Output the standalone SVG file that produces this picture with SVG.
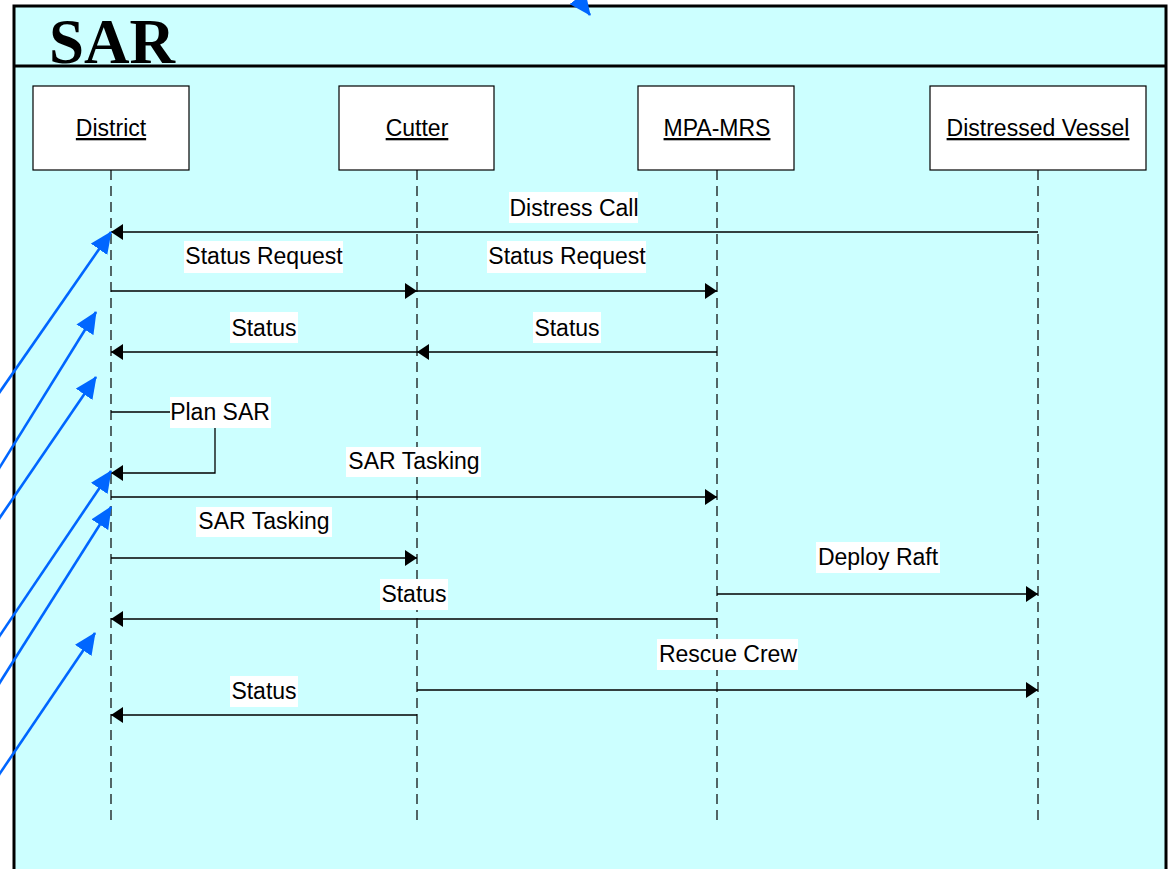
<svg xmlns="http://www.w3.org/2000/svg" width="1169" height="869" viewBox="0 0 1169 869">
  <style>
    .frame { fill: #CCFFFF; stroke: #000; stroke-width: 3; }
    .box { fill: #fff; stroke: #000; stroke-width: 1.2; }
    .name { font-family: "Liberation Sans", Arial, sans-serif; font-size: 23px; text-anchor: middle; text-decoration: underline; fill: #000; }
    .life { stroke: #000; stroke-width: 1.2; stroke-dasharray: 10 6; fill: none; }
    .msg { stroke: #000; stroke-width: 1.3; fill: none; }
    .lbl { font-family: "Liberation Sans", Arial, sans-serif; font-size: 23px; text-anchor: middle; fill: #000; }
    .lblbg { fill: #fff; }
    .note { stroke: #0066FF; stroke-width: 2.6; fill: none; }
  </style>
  <defs>
    <marker id="head" viewBox="0 0 12 16" refX="12" refY="8" markerWidth="12" markerHeight="16" markerUnits="userSpaceOnUse" orient="auto">
      <path d="M0,0 L12,8 L0,16 Z" fill="#000"/>
    </marker>
    <marker id="bluehead" viewBox="0 0 22 20" refX="21" refY="10" markerWidth="22" markerHeight="20" markerUnits="userSpaceOnUse" orient="auto">
      <path d="M0,0 L22,10 L0,20 Z" fill="#0066FF"/>
    </marker>
  </defs>

  <!-- swimlane frame and title -->
  <rect class="frame" x="14" y="6" width="1152" height="890"/>
  <line x1="14" y1="66" x2="1166" y2="66" stroke="#000" stroke-width="3"/>
  <text x="49" y="63" font-family="'Liberation Serif', 'Times New Roman', serif" font-size="63" font-weight="bold" fill="#000">SAR</text>

  <!-- participants -->
  <g id="district">
    <rect class="box" x="33" y="86" width="156" height="84"/>
    <text class="name" x="111" y="136">District</text>
    <line class="life" x1="111" y1="170" x2="111" y2="825"/>
  </g>
  <g id="cutter">
    <rect class="box" x="339" y="86" width="155" height="84"/>
    <text class="name" x="417" y="136">Cutter</text>
    <line class="life" x1="417" y1="170" x2="417" y2="825"/>
  </g>
  <g id="mpa-mrs">
    <rect class="box" x="638" y="86" width="156" height="84"/>
    <text class="name" x="717" y="136">MPA-MRS</text>
    <line class="life" x1="717" y1="170" x2="717" y2="825"/>
  </g>
  <g id="distressed-vessel">
    <rect class="box" x="930" y="86" width="216" height="84"/>
    <text class="name" x="1038" y="136">Distressed Vessel</text>
    <line class="life" x1="1038" y1="170" x2="1038" y2="825"/>
  </g>

  <!-- messages -->
  <g id="connectors">
    <line class="msg" x1="1038" y1="232" x2="111" y2="232" marker-end="url(#head)"/>
    <line class="msg" x1="111" y1="291" x2="417" y2="291" marker-end="url(#head)"/>
    <line class="msg" x1="417" y1="291" x2="717" y2="291" marker-end="url(#head)"/>
    <line class="msg" x1="717" y1="352" x2="417" y2="352" marker-end="url(#head)"/>
    <line class="msg" x1="417" y1="352" x2="111" y2="352" marker-end="url(#head)"/>
    <polyline class="msg" points="111,412 172,412"/>
    <polyline class="msg" points="215,428 215,473 111,473" marker-end="url(#head)"/>
    <line class="msg" x1="111" y1="497" x2="717" y2="497" marker-end="url(#head)"/>
    <line class="msg" x1="111" y1="558" x2="417" y2="558" marker-end="url(#head)"/>
    <line class="msg" x1="717" y1="594" x2="1038" y2="594" marker-end="url(#head)"/>
    <line class="msg" x1="717" y1="619" x2="111" y2="619" marker-end="url(#head)"/>
    <line class="msg" x1="417" y1="690" x2="1038" y2="690" marker-end="url(#head)"/>
    <line class="msg" x1="417" y1="715" x2="111" y2="715" marker-end="url(#head)"/>

    <!-- message labels -->
    <rect class="lblbg" x="509" y="192" width="129" height="31"/>
    <text class="lbl" x="574" y="216">Distress Call</text>
    <rect class="lblbg" x="184" y="241" width="159" height="32"/>
    <text class="lbl" x="264" y="264">Status Request</text>
    <rect class="lblbg" x="487" y="241" width="159" height="32"/>
    <text class="lbl" x="567" y="264">Status Request</text>
    <rect class="lblbg" x="230" y="312" width="68" height="31"/>
    <text class="lbl" x="264" y="336">Status</text>
    <rect class="lblbg" x="533" y="312" width="68" height="31"/>
    <text class="lbl" x="567" y="336">Status</text>
    <rect class="lblbg" x="170" y="397" width="101" height="31"/>
    <text class="lbl" x="220" y="420">Plan SAR</text>
    <rect class="lblbg" x="346" y="447" width="135" height="30"/>
    <text class="lbl" x="414" y="469">SAR Tasking</text>
    <rect class="lblbg" x="196" y="507" width="136" height="30"/>
    <text class="lbl" x="264" y="529">SAR Tasking</text>
    <rect class="lblbg" x="816" y="542" width="124" height="31"/>
    <text class="lbl" x="878" y="565">Deploy Raft</text>
    <rect class="lblbg" x="380" y="579" width="68" height="31"/>
    <text class="lbl" x="414" y="602">Status</text>
    <rect class="lblbg" x="657" y="639" width="141" height="31"/>
    <text class="lbl" x="728" y="662">Rescue Crew</text>
    <rect class="lblbg" x="230" y="676" width="68" height="31"/>
    <text class="lbl" x="264" y="699">Status</text>
  </g>

  <!-- blue callout arrows -->
  <g id="callouts">
    <line class="note" x1="-10" y1="406" x2="111" y2="232" marker-end="url(#bluehead)"/>
    <line class="note" x1="-10" y1="483" x2="96" y2="312" marker-end="url(#bluehead)"/>
    <line class="note" x1="-10" y1="532" x2="96" y2="377" marker-end="url(#bluehead)"/>
    <line class="note" x1="-10" y1="650" x2="111" y2="471" marker-end="url(#bluehead)"/>
    <line class="note" x1="-10" y1="698" x2="111" y2="507" marker-end="url(#bluehead)"/>
    <line class="note" x1="-10" y1="788" x2="95" y2="633" marker-end="url(#bluehead)"/>
    <line class="note" x1="570" y1="-12" x2="590" y2="15" marker-end="url(#bluehead)"/>
  </g>
</svg>
